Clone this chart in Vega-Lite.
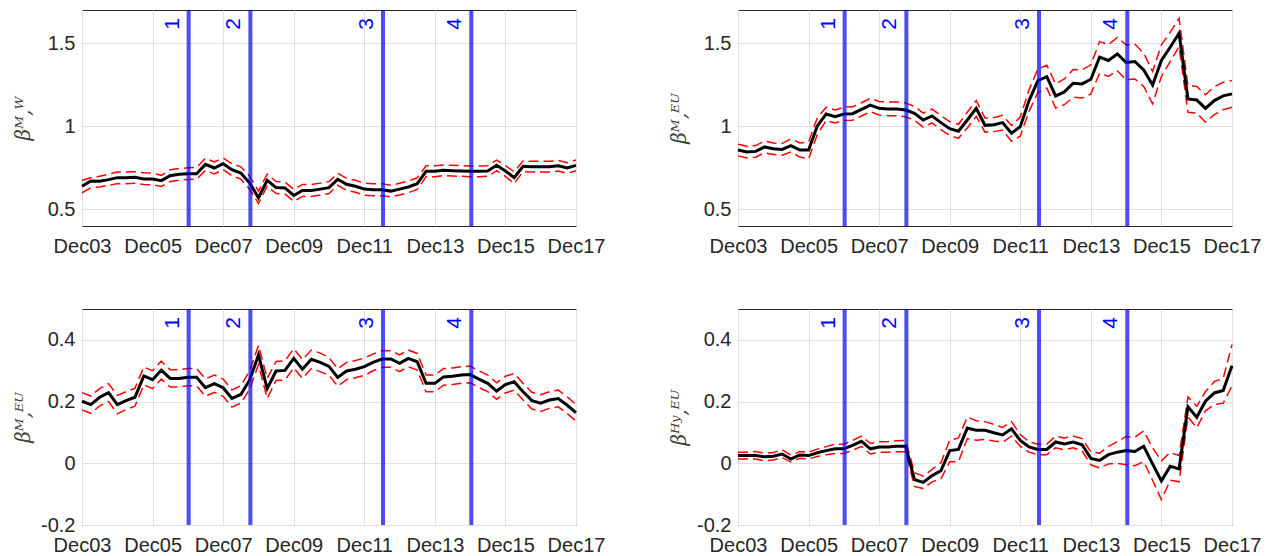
{
"$schema": "https://vega.github.io/schema/vega-lite/v6.json",
"padding": {"left": 12, "top": 7, "right": 0, "bottom": 0},
"background": "white",
"datasets": {
"ev": [{"d":"2006-12-09","n":"1"},{"d":"2008-09-08","n":"2"},{"d":"2012-06-12","n":"3"},{"d":"2014-12-13","n":"4"}],
"s": [
{"p":"A","d":"2003-12-01","m":0.639,"lo":0.600,"hi":0.675},
{"p":"A","d":"2004-03-01","m":0.671,"lo":0.630,"hi":0.690},
{"p":"A","d":"2004-06-01","m":0.669,"lo":0.635,"hi":0.700},
{"p":"A","d":"2004-09-01","m":0.679,"lo":0.645,"hi":0.712},
{"p":"A","d":"2004-12-01","m":0.691,"lo":0.655,"hi":0.725},
{"p":"A","d":"2005-03-01","m":0.691,"lo":0.655,"hi":0.725},
{"p":"A","d":"2005-06-01","m":0.693,"lo":0.657,"hi":0.727},
{"p":"A","d":"2005-09-01","m":0.683,"lo":0.650,"hi":0.720},
{"p":"A","d":"2005-12-01","m":0.683,"lo":0.648,"hi":0.718},
{"p":"A","d":"2006-03-01","m":0.673,"lo":0.638,"hi":0.705},
{"p":"A","d":"2006-06-01","m":0.703,"lo":0.668,"hi":0.738},
{"p":"A","d":"2006-09-01","m":0.711,"lo":0.676,"hi":0.746},
{"p":"A","d":"2006-12-01","m":0.715,"lo":0.680,"hi":0.750},
{"p":"A","d":"2007-03-01","m":0.715,"lo":0.682,"hi":0.752},
{"p":"A","d":"2007-06-01","m":0.771,"lo":0.735,"hi":0.808},
{"p":"A","d":"2007-09-01","m":0.749,"lo":0.713,"hi":0.786},
{"p":"A","d":"2007-12-01","m":0.775,"lo":0.740,"hi":0.810},
{"p":"A","d":"2008-03-01","m":0.739,"lo":0.703,"hi":0.775},
{"p":"A","d":"2008-06-01","m":0.719,"lo":0.682,"hi":0.756},
{"p":"A","d":"2008-09-01","m":0.659,"lo":0.620,"hi":0.700},
{"p":"A","d":"2008-12-01","m":0.570,"lo":0.535,"hi":0.610},
{"p":"A","d":"2009-03-01","m":0.675,"lo":0.640,"hi":0.712},
{"p":"A","d":"2009-06-01","m":0.631,"lo":0.595,"hi":0.668},
{"p":"A","d":"2009-09-01","m":0.629,"lo":0.593,"hi":0.665},
{"p":"A","d":"2009-12-01","m":0.584,"lo":0.548,"hi":0.620},
{"p":"A","d":"2010-03-01","m":0.614,"lo":0.578,"hi":0.650},
{"p":"A","d":"2010-06-01","m":0.614,"lo":0.578,"hi":0.650},
{"p":"A","d":"2010-09-01","m":0.622,"lo":0.586,"hi":0.658},
{"p":"A","d":"2010-12-01","m":0.631,"lo":0.595,"hi":0.667},
{"p":"A","d":"2011-03-01","m":0.681,"lo":0.645,"hi":0.717},
{"p":"A","d":"2011-06-01","m":0.651,"lo":0.615,"hi":0.687},
{"p":"A","d":"2011-09-01","m":0.639,"lo":0.603,"hi":0.675},
{"p":"A","d":"2011-12-01","m":0.622,"lo":0.586,"hi":0.658},
{"p":"A","d":"2012-03-01","m":0.618,"lo":0.582,"hi":0.654},
{"p":"A","d":"2012-06-01","m":0.618,"lo":0.582,"hi":0.654},
{"p":"A","d":"2012-09-01","m":0.610,"lo":0.575,"hi":0.645},
{"p":"A","d":"2012-12-01","m":0.622,"lo":0.587,"hi":0.657},
{"p":"A","d":"2013-03-01","m":0.635,"lo":0.600,"hi":0.670},
{"p":"A","d":"2013-06-01","m":0.655,"lo":0.620,"hi":0.690},
{"p":"A","d":"2013-09-01","m":0.729,"lo":0.697,"hi":0.762},
{"p":"A","d":"2013-12-01","m":0.729,"lo":0.697,"hi":0.762},
{"p":"A","d":"2014-03-01","m":0.735,"lo":0.703,"hi":0.767},
{"p":"A","d":"2014-06-01","m":0.733,"lo":0.701,"hi":0.765},
{"p":"A","d":"2014-09-01","m":0.731,"lo":0.699,"hi":0.763},
{"p":"A","d":"2014-12-01","m":0.729,"lo":0.697,"hi":0.761},
{"p":"A","d":"2015-03-01","m":0.729,"lo":0.697,"hi":0.761},
{"p":"A","d":"2015-06-01","m":0.731,"lo":0.699,"hi":0.763},
{"p":"A","d":"2015-09-01","m":0.765,"lo":0.733,"hi":0.797},
{"p":"A","d":"2015-12-01","m":0.731,"lo":0.699,"hi":0.763},
{"p":"A","d":"2016-03-01","m":0.691,"lo":0.655,"hi":0.727},
{"p":"A","d":"2016-06-01","m":0.759,"lo":0.727,"hi":0.791},
{"p":"A","d":"2016-09-01","m":0.757,"lo":0.725,"hi":0.789},
{"p":"A","d":"2016-12-01","m":0.757,"lo":0.725,"hi":0.789},
{"p":"A","d":"2017-03-01","m":0.757,"lo":0.725,"hi":0.789},
{"p":"A","d":"2017-06-01","m":0.763,"lo":0.731,"hi":0.795},
{"p":"A","d":"2017-09-01","m":0.749,"lo":0.717,"hi":0.781},
{"p":"A","d":"2017-12-01","m":0.765,"lo":0.733,"hi":0.797},
{"p":"B","d":"2003-12-01","m":0.857,"lo":0.822,"hi":0.892},
{"p":"B","d":"2004-03-01","m":0.845,"lo":0.810,"hi":0.880},
{"p":"B","d":"2004-06-01","m":0.849,"lo":0.814,"hi":0.884},
{"p":"B","d":"2004-09-01","m":0.876,"lo":0.841,"hi":0.911},
{"p":"B","d":"2004-12-01","m":0.865,"lo":0.830,"hi":0.900},
{"p":"B","d":"2005-03-01","m":0.861,"lo":0.826,"hi":0.896},
{"p":"B","d":"2005-06-01","m":0.884,"lo":0.845,"hi":0.925},
{"p":"B","d":"2005-09-01","m":0.857,"lo":0.815,"hi":0.900},
{"p":"B","d":"2005-12-01","m":0.857,"lo":0.805,"hi":0.905},
{"p":"B","d":"2006-03-01","m":1.002,"lo":0.950,"hi":1.050},
{"p":"B","d":"2006-06-01","m":1.074,"lo":1.035,"hi":1.115},
{"p":"B","d":"2006-09-01","m":1.058,"lo":1.020,"hi":1.098},
{"p":"B","d":"2006-12-01","m":1.074,"lo":1.035,"hi":1.115},
{"p":"B","d":"2007-03-01","m":1.076,"lo":1.037,"hi":1.117},
{"p":"B","d":"2007-06-01","m":1.102,"lo":1.062,"hi":1.142},
{"p":"B","d":"2007-09-01","m":1.128,"lo":1.088,"hi":1.168},
{"p":"B","d":"2007-12-01","m":1.108,"lo":1.068,"hi":1.150},
{"p":"B","d":"2008-03-01","m":1.104,"lo":1.064,"hi":1.146},
{"p":"B","d":"2008-06-01","m":1.104,"lo":1.064,"hi":1.146},
{"p":"B","d":"2008-09-01","m":1.098,"lo":1.057,"hi":1.140},
{"p":"B","d":"2008-12-01","m":1.078,"lo":1.036,"hi":1.120},
{"p":"B","d":"2009-03-01","m":1.038,"lo":0.995,"hi":1.080},
{"p":"B","d":"2009-06-01","m":1.062,"lo":1.020,"hi":1.104},
{"p":"B","d":"2009-09-01","m":1.022,"lo":0.980,"hi":1.064},
{"p":"B","d":"2009-12-01","m":0.986,"lo":0.945,"hi":1.028},
{"p":"B","d":"2010-03-01","m":0.970,"lo":0.928,"hi":1.012},
{"p":"B","d":"2010-06-01","m":1.038,"lo":0.990,"hi":1.085},
{"p":"B","d":"2010-09-01","m":1.108,"lo":1.060,"hi":1.155},
{"p":"B","d":"2010-12-01","m":1.006,"lo":0.965,"hi":1.050},
{"p":"B","d":"2011-03-01","m":1.010,"lo":0.968,"hi":1.052},
{"p":"B","d":"2011-06-01","m":1.022,"lo":0.978,"hi":1.066},
{"p":"B","d":"2011-09-01","m":0.958,"lo":0.910,"hi":1.005},
{"p":"B","d":"2011-12-01","m":0.998,"lo":0.940,"hi":1.055},
{"p":"B","d":"2012-03-01","m":1.155,"lo":1.090,"hi":1.220},
{"p":"B","d":"2012-06-01","m":1.275,"lo":1.205,"hi":1.345},
{"p":"B","d":"2012-09-01","m":1.299,"lo":1.230,"hi":1.368},
{"p":"B","d":"2012-12-01","m":1.183,"lo":1.110,"hi":1.255},
{"p":"B","d":"2013-03-01","m":1.207,"lo":1.130,"hi":1.285},
{"p":"B","d":"2013-06-01","m":1.259,"lo":1.175,"hi":1.342},
{"p":"B","d":"2013-09-01","m":1.255,"lo":1.170,"hi":1.340},
{"p":"B","d":"2013-12-01","m":1.283,"lo":1.195,"hi":1.370},
{"p":"B","d":"2014-03-01","m":1.416,"lo":1.320,"hi":1.510},
{"p":"B","d":"2014-06-01","m":1.396,"lo":1.300,"hi":1.492},
{"p":"B","d":"2014-09-01","m":1.436,"lo":1.335,"hi":1.535},
{"p":"B","d":"2014-12-01","m":1.384,"lo":1.280,"hi":1.490},
{"p":"B","d":"2015-03-01","m":1.390,"lo":1.285,"hi":1.495},
{"p":"B","d":"2015-06-01","m":1.339,"lo":1.240,"hi":1.440},
{"p":"B","d":"2015-09-01","m":1.249,"lo":1.135,"hi":1.330},
{"p":"B","d":"2015-12-01","m":1.396,"lo":1.300,"hi":1.490},
{"p":"B","d":"2016-03-01","m":1.476,"lo":1.390,"hi":1.565},
{"p":"B","d":"2016-06-01","m":1.560,"lo":1.480,"hi":1.650},
{"p":"B","d":"2016-09-01","m":1.165,"lo":1.085,"hi":1.245},
{"p":"B","d":"2016-12-01","m":1.159,"lo":1.080,"hi":1.240},
{"p":"B","d":"2017-03-01","m":1.108,"lo":1.025,"hi":1.190},
{"p":"B","d":"2017-06-01","m":1.155,"lo":1.070,"hi":1.238},
{"p":"B","d":"2017-09-01","m":1.183,"lo":1.100,"hi":1.265},
{"p":"B","d":"2017-12-01","m":1.195,"lo":1.115,"hi":1.275},
{"p":"C","d":"2003-12-01","m":0.201,"lo":0.173,"hi":0.229},
{"p":"C","d":"2004-03-01","m":0.190,"lo":0.162,"hi":0.218},
{"p":"C","d":"2004-06-01","m":0.214,"lo":0.186,"hi":0.242},
{"p":"C","d":"2004-09-01","m":0.229,"lo":0.200,"hi":0.258},
{"p":"C","d":"2004-12-01","m":0.190,"lo":0.160,"hi":0.220},
{"p":"C","d":"2005-03-01","m":0.203,"lo":0.174,"hi":0.232},
{"p":"C","d":"2005-06-01","m":0.214,"lo":0.185,"hi":0.243},
{"p":"C","d":"2005-09-01","m":0.283,"lo":0.254,"hi":0.312},
{"p":"C","d":"2005-12-01","m":0.271,"lo":0.242,"hi":0.300},
{"p":"C","d":"2006-03-01","m":0.302,"lo":0.273,"hi":0.331},
{"p":"C","d":"2006-06-01","m":0.275,"lo":0.247,"hi":0.303},
{"p":"C","d":"2006-09-01","m":0.275,"lo":0.247,"hi":0.303},
{"p":"C","d":"2006-12-01","m":0.279,"lo":0.251,"hi":0.307},
{"p":"C","d":"2007-03-01","m":0.279,"lo":0.251,"hi":0.307},
{"p":"C","d":"2007-06-01","m":0.245,"lo":0.217,"hi":0.273},
{"p":"C","d":"2007-09-01","m":0.258,"lo":0.230,"hi":0.286},
{"p":"C","d":"2007-12-01","m":0.245,"lo":0.217,"hi":0.273},
{"p":"C","d":"2008-03-01","m":0.210,"lo":0.182,"hi":0.238},
{"p":"C","d":"2008-06-01","m":0.223,"lo":0.195,"hi":0.251},
{"p":"C","d":"2008-09-01","m":0.270,"lo":0.240,"hi":0.300},
{"p":"C","d":"2008-12-01","m":0.351,"lo":0.320,"hi":0.382},
{"p":"C","d":"2009-03-01","m":0.242,"lo":0.210,"hi":0.275},
{"p":"C","d":"2009-06-01","m":0.299,"lo":0.268,"hi":0.330},
{"p":"C","d":"2009-09-01","m":0.301,"lo":0.270,"hi":0.332},
{"p":"C","d":"2009-12-01","m":0.340,"lo":0.309,"hi":0.371},
{"p":"C","d":"2010-03-01","m":0.305,"lo":0.275,"hi":0.336},
{"p":"C","d":"2010-06-01","m":0.337,"lo":0.307,"hi":0.367},
{"p":"C","d":"2010-09-01","m":0.327,"lo":0.297,"hi":0.357},
{"p":"C","d":"2010-12-01","m":0.314,"lo":0.285,"hi":0.343},
{"p":"C","d":"2011-03-01","m":0.278,"lo":0.250,"hi":0.306},
{"p":"C","d":"2011-06-01","m":0.299,"lo":0.271,"hi":0.327},
{"p":"C","d":"2011-09-01","m":0.305,"lo":0.277,"hi":0.333},
{"p":"C","d":"2011-12-01","m":0.313,"lo":0.285,"hi":0.341},
{"p":"C","d":"2012-03-01","m":0.327,"lo":0.300,"hi":0.354},
{"p":"C","d":"2012-06-01","m":0.338,"lo":0.311,"hi":0.365},
{"p":"C","d":"2012-09-01","m":0.338,"lo":0.311,"hi":0.365},
{"p":"C","d":"2012-12-01","m":0.324,"lo":0.297,"hi":0.351},
{"p":"C","d":"2013-03-01","m":0.340,"lo":0.313,"hi":0.367},
{"p":"C","d":"2013-06-01","m":0.329,"lo":0.302,"hi":0.356},
{"p":"C","d":"2013-09-01","m":0.259,"lo":0.232,"hi":0.286},
{"p":"C","d":"2013-12-01","m":0.259,"lo":0.232,"hi":0.286},
{"p":"C","d":"2014-03-01","m":0.280,"lo":0.253,"hi":0.307},
{"p":"C","d":"2014-06-01","m":0.282,"lo":0.255,"hi":0.309},
{"p":"C","d":"2014-09-01","m":0.286,"lo":0.259,"hi":0.313},
{"p":"C","d":"2014-12-01","m":0.288,"lo":0.261,"hi":0.315},
{"p":"C","d":"2015-03-01","m":0.273,"lo":0.246,"hi":0.300},
{"p":"C","d":"2015-06-01","m":0.259,"lo":0.232,"hi":0.286},
{"p":"C","d":"2015-09-01","m":0.234,"lo":0.207,"hi":0.261},
{"p":"C","d":"2015-12-01","m":0.255,"lo":0.228,"hi":0.282},
{"p":"C","d":"2016-03-01","m":0.264,"lo":0.237,"hi":0.291},
{"p":"C","d":"2016-06-01","m":0.232,"lo":0.205,"hi":0.259},
{"p":"C","d":"2016-09-01","m":0.203,"lo":0.176,"hi":0.230},
{"p":"C","d":"2016-12-01","m":0.195,"lo":0.168,"hi":0.222},
{"p":"C","d":"2017-03-01","m":0.205,"lo":0.178,"hi":0.232},
{"p":"C","d":"2017-06-01","m":0.210,"lo":0.183,"hi":0.237},
{"p":"C","d":"2017-09-01","m":0.188,"lo":0.161,"hi":0.215},
{"p":"C","d":"2017-12-01","m":0.164,"lo":0.137,"hi":0.191},
{"p":"D","d":"2003-12-01","m":0.025,"lo":0.014,"hi":0.036},
{"p":"D","d":"2004-03-01","m":0.025,"lo":0.014,"hi":0.036},
{"p":"D","d":"2004-06-01","m":0.025,"lo":0.014,"hi":0.038},
{"p":"D","d":"2004-09-01","m":0.021,"lo":0.008,"hi":0.032},
{"p":"D","d":"2004-12-01","m":0.023,"lo":0.011,"hi":0.035},
{"p":"D","d":"2005-03-01","m":0.030,"lo":0.018,"hi":0.044},
{"p":"D","d":"2005-06-01","m":0.014,"lo":0.004,"hi":0.026},
{"p":"D","d":"2005-09-01","m":0.027,"lo":0.016,"hi":0.038},
{"p":"D","d":"2005-12-01","m":0.025,"lo":0.014,"hi":0.036},
{"p":"D","d":"2006-03-01","m":0.034,"lo":0.022,"hi":0.046},
{"p":"D","d":"2006-06-01","m":0.041,"lo":0.028,"hi":0.054},
{"p":"D","d":"2006-09-01","m":0.047,"lo":0.032,"hi":0.062},
{"p":"D","d":"2006-12-01","m":0.047,"lo":0.032,"hi":0.062},
{"p":"D","d":"2007-03-01","m":0.058,"lo":0.042,"hi":0.074},
{"p":"D","d":"2007-06-01","m":0.071,"lo":0.055,"hi":0.088},
{"p":"D","d":"2007-09-01","m":0.047,"lo":0.030,"hi":0.064},
{"p":"D","d":"2007-12-01","m":0.053,"lo":0.036,"hi":0.070},
{"p":"D","d":"2008-03-01","m":0.053,"lo":0.036,"hi":0.070},
{"p":"D","d":"2008-06-01","m":0.055,"lo":0.037,"hi":0.073},
{"p":"D","d":"2008-09-01","m":0.055,"lo":0.037,"hi":0.074},
{"p":"D","d":"2008-12-01","m":-0.053,"lo":-0.075,"hi":-0.030},
{"p":"D","d":"2009-03-01","m":-0.062,"lo":-0.082,"hi":-0.042},
{"p":"D","d":"2009-06-01","m":-0.040,"lo":-0.060,"hi":-0.020},
{"p":"D","d":"2009-09-01","m":-0.024,"lo":-0.050,"hi":0.002},
{"p":"D","d":"2009-12-01","m":0.041,"lo":0.005,"hi":0.075},
{"p":"D","d":"2010-03-01","m":0.045,"lo":0.005,"hi":0.082},
{"p":"D","d":"2010-06-01","m":0.114,"lo":0.080,"hi":0.150},
{"p":"D","d":"2010-09-01","m":0.107,"lo":0.075,"hi":0.138},
{"p":"D","d":"2010-12-01","m":0.107,"lo":0.077,"hi":0.135},
{"p":"D","d":"2011-03-01","m":0.099,"lo":0.072,"hi":0.126},
{"p":"D","d":"2011-06-01","m":0.092,"lo":0.068,"hi":0.116},
{"p":"D","d":"2011-09-01","m":0.112,"lo":0.088,"hi":0.135},
{"p":"D","d":"2011-12-01","m":0.074,"lo":0.055,"hi":0.093},
{"p":"D","d":"2012-03-01","m":0.053,"lo":0.036,"hi":0.070},
{"p":"D","d":"2012-06-01","m":0.045,"lo":0.028,"hi":0.062},
{"p":"D","d":"2012-09-01","m":0.045,"lo":0.028,"hi":0.062},
{"p":"D","d":"2012-12-01","m":0.069,"lo":0.050,"hi":0.088},
{"p":"D","d":"2013-03-01","m":0.063,"lo":0.044,"hi":0.082},
{"p":"D","d":"2013-06-01","m":0.069,"lo":0.050,"hi":0.088},
{"p":"D","d":"2013-09-01","m":0.060,"lo":0.040,"hi":0.080},
{"p":"D","d":"2013-12-01","m":0.016,"lo":-0.005,"hi":0.037},
{"p":"D","d":"2014-03-01","m":0.009,"lo":-0.015,"hi":0.033},
{"p":"D","d":"2014-06-01","m":0.028,"lo":-0.002,"hi":0.055},
{"p":"D","d":"2014-09-01","m":0.036,"lo":0.000,"hi":0.070},
{"p":"D","d":"2014-12-01","m":0.041,"lo":-0.005,"hi":0.087},
{"p":"D","d":"2015-03-01","m":0.038,"lo":-0.008,"hi":0.084},
{"p":"D","d":"2015-06-01","m":0.055,"lo":0.005,"hi":0.105},
{"p":"D","d":"2015-09-01","m":-0.002,"lo":-0.055,"hi":0.050},
{"p":"D","d":"2015-12-01","m":-0.057,"lo":-0.118,"hi":0.008},
{"p":"D","d":"2016-03-01","m":-0.010,"lo":-0.055,"hi":0.035},
{"p":"D","d":"2016-06-01","m":-0.018,"lo":-0.060,"hi":0.025},
{"p":"D","d":"2016-09-01","m":0.183,"lo":0.150,"hi":0.215},
{"p":"D","d":"2016-12-01","m":0.149,"lo":0.115,"hi":0.185},
{"p":"D","d":"2017-03-01","m":0.201,"lo":0.170,"hi":0.232},
{"p":"D","d":"2017-06-01","m":0.228,"lo":0.190,"hi":0.265},
{"p":"D","d":"2017-09-01","m":0.236,"lo":0.195,"hi":0.275},
{"p":"D","d":"2017-12-01","m":0.316,"lo":0.250,"hi":0.385}
]
},
"columns": 2,
"bounds": "flush",
"spacing": {"row": 83, "column": 162},
"concat": [
{
"width": 494, "height": 216,
"encoding": {"x": {"field": "d", "type": "temporal", "scale": {"type": "utc", "domain": [{"year":2003,"month":12,"date":1,"utc":true},{"year":2017,"month":12,"date":1,"utc":true}]}, "axis": {"values": [{"year":2003,"month":12,"date":1,"utc":true},{"year":2005,"month":12,"date":1,"utc":true},{"year":2007,"month":12,"date":1,"utc":true},{"year":2009,"month":12,"date":1,"utc":true},{"year":2011,"month":12,"date":1,"utc":true},{"year":2013,"month":12,"date":1,"utc":true},{"year":2015,"month":12,"date":1,"utc":true},{"year":2017,"month":12,"date":1,"utc":true}], "labelExpr": "utcFormat(datum.value, '%b%y')", "title": null}}},
"layer": [
{"data": {"name": "s"}, "transform": [{"filter": "datum.p == 'A'"}], "mark": {"type": "line", "color": "#ff0000", "strokeWidth": 1.5, "strokeDash": [10, 5]}, "encoding": {"y": {"field": "lo", "type": "quantitative", "title": "βᴹ,ᵂ", "scale": {"domain": [0.4, 1.7], "nice": false, "zero": false}, "axis": {"values": [0.5, 1, 1.5], "labelExpr": "'' + datum.value"}}}},
{"data": {"name": "s"}, "transform": [{"filter": "datum.p == 'A'"}], "mark": {"type": "line", "color": "#ff0000", "strokeWidth": 1.5, "strokeDash": [10, 5]}, "encoding": {"y": {"field": "hi", "type": "quantitative", "title": "βᴹ,ᵂ"}}},
{"data": {"name": "s"}, "transform": [{"filter": "datum.p == 'A'"}], "mark": {"type": "line", "color": "#000000", "strokeWidth": 3}, "encoding": {"y": {"field": "m", "type": "quantitative", "title": "βᴹ,ᵂ"}}},
{"data": {"name": "ev"}, "mark": {"type": "rule", "color": "#0000ff", "opacity": 0.7, "strokeWidth": 4}, "encoding": {}},
{"data": {"name": "ev"}, "mark": {"type": "text", "color": "#0000ff", "font": "Liberation Sans", "fontSize": 21, "angle": 270, "align": "right", "baseline": "alphabetic", "dx": -8, "dy": -10}, "encoding": {"y": {"datum": 1.7, "type": "quantitative"}, "text": {"field": "n"}}}
]
},
{
"width": 494, "height": 216,
"encoding": {"x": {"field": "d", "type": "temporal", "scale": {"type": "utc", "domain": [{"year":2003,"month":12,"date":1,"utc":true},{"year":2017,"month":12,"date":1,"utc":true}]}, "axis": {"values": [{"year":2003,"month":12,"date":1,"utc":true},{"year":2005,"month":12,"date":1,"utc":true},{"year":2007,"month":12,"date":1,"utc":true},{"year":2009,"month":12,"date":1,"utc":true},{"year":2011,"month":12,"date":1,"utc":true},{"year":2013,"month":12,"date":1,"utc":true},{"year":2015,"month":12,"date":1,"utc":true},{"year":2017,"month":12,"date":1,"utc":true}], "labelExpr": "utcFormat(datum.value, '%b%y')", "title": null}}},
"layer": [
{"data": {"name": "s"}, "transform": [{"filter": "datum.p == 'B'"}], "mark": {"type": "line", "color": "#ff0000", "strokeWidth": 1.5, "strokeDash": [10, 5]}, "encoding": {"y": {"field": "lo", "type": "quantitative", "title": "βᴹ,ᴱᵁ", "scale": {"domain": [0.4, 1.7], "nice": false, "zero": false}, "axis": {"values": [0.5, 1, 1.5], "labelExpr": "'' + datum.value"}}}},
{"data": {"name": "s"}, "transform": [{"filter": "datum.p == 'B'"}], "mark": {"type": "line", "color": "#ff0000", "strokeWidth": 1.5, "strokeDash": [10, 5]}, "encoding": {"y": {"field": "hi", "type": "quantitative", "title": "βᴹ,ᴱᵁ"}}},
{"data": {"name": "s"}, "transform": [{"filter": "datum.p == 'B'"}], "mark": {"type": "line", "color": "#000000", "strokeWidth": 3}, "encoding": {"y": {"field": "m", "type": "quantitative", "title": "βᴹ,ᴱᵁ"}}},
{"data": {"name": "ev"}, "mark": {"type": "rule", "color": "#0000ff", "opacity": 0.7, "strokeWidth": 4}, "encoding": {}},
{"data": {"name": "ev"}, "mark": {"type": "text", "color": "#0000ff", "font": "Liberation Sans", "fontSize": 21, "angle": 270, "align": "right", "baseline": "alphabetic", "dx": -8, "dy": -10}, "encoding": {"y": {"datum": 1.7, "type": "quantitative"}, "text": {"field": "n"}}}
]
},
{
"width": 494, "height": 216,
"encoding": {"x": {"field": "d", "type": "temporal", "scale": {"type": "utc", "domain": [{"year":2003,"month":12,"date":1,"utc":true},{"year":2017,"month":12,"date":1,"utc":true}]}, "axis": {"values": [{"year":2003,"month":12,"date":1,"utc":true},{"year":2005,"month":12,"date":1,"utc":true},{"year":2007,"month":12,"date":1,"utc":true},{"year":2009,"month":12,"date":1,"utc":true},{"year":2011,"month":12,"date":1,"utc":true},{"year":2013,"month":12,"date":1,"utc":true},{"year":2015,"month":12,"date":1,"utc":true},{"year":2017,"month":12,"date":1,"utc":true}], "labelExpr": "utcFormat(datum.value, '%b%y')", "title": null}}},
"layer": [
{"data": {"name": "s"}, "transform": [{"filter": "datum.p == 'C'"}], "mark": {"type": "line", "color": "#ff0000", "strokeWidth": 1.5, "strokeDash": [10, 5]}, "encoding": {"y": {"field": "lo", "type": "quantitative", "title": "βᴹ,ᴱᵁ", "scale": {"domain": [-0.2, 0.5], "nice": false, "zero": false}, "axis": {"values": [-0.2, 0, 0.2, 0.4], "labelExpr": "'' + datum.value"}}}},
{"data": {"name": "s"}, "transform": [{"filter": "datum.p == 'C'"}], "mark": {"type": "line", "color": "#ff0000", "strokeWidth": 1.5, "strokeDash": [10, 5]}, "encoding": {"y": {"field": "hi", "type": "quantitative", "title": "βᴹ,ᴱᵁ"}}},
{"data": {"name": "s"}, "transform": [{"filter": "datum.p == 'C'"}], "mark": {"type": "line", "color": "#000000", "strokeWidth": 3}, "encoding": {"y": {"field": "m", "type": "quantitative", "title": "βᴹ,ᴱᵁ"}}},
{"data": {"name": "ev"}, "mark": {"type": "rule", "color": "#0000ff", "opacity": 0.7, "strokeWidth": 4}, "encoding": {}},
{"data": {"name": "ev"}, "mark": {"type": "text", "color": "#0000ff", "font": "Liberation Sans", "fontSize": 21, "angle": 270, "align": "right", "baseline": "alphabetic", "dx": -8, "dy": -10}, "encoding": {"y": {"datum": 0.5, "type": "quantitative"}, "text": {"field": "n"}}}
]
},
{
"width": 494, "height": 216,
"encoding": {"x": {"field": "d", "type": "temporal", "scale": {"type": "utc", "domain": [{"year":2003,"month":12,"date":1,"utc":true},{"year":2017,"month":12,"date":1,"utc":true}]}, "axis": {"values": [{"year":2003,"month":12,"date":1,"utc":true},{"year":2005,"month":12,"date":1,"utc":true},{"year":2007,"month":12,"date":1,"utc":true},{"year":2009,"month":12,"date":1,"utc":true},{"year":2011,"month":12,"date":1,"utc":true},{"year":2013,"month":12,"date":1,"utc":true},{"year":2015,"month":12,"date":1,"utc":true},{"year":2017,"month":12,"date":1,"utc":true}], "labelExpr": "utcFormat(datum.value, '%b%y')", "title": null}}},
"layer": [
{"data": {"name": "s"}, "transform": [{"filter": "datum.p == 'D'"}], "mark": {"type": "line", "color": "#ff0000", "strokeWidth": 1.5, "strokeDash": [10, 5]}, "encoding": {"y": {"field": "lo", "type": "quantitative", "title": "βᴴʸ,ᴱᵁ", "scale": {"domain": [-0.2, 0.5], "nice": false, "zero": false}, "axis": {"values": [-0.2, 0, 0.2, 0.4], "labelExpr": "'' + datum.value"}}}},
{"data": {"name": "s"}, "transform": [{"filter": "datum.p == 'D'"}], "mark": {"type": "line", "color": "#ff0000", "strokeWidth": 1.5, "strokeDash": [10, 5]}, "encoding": {"y": {"field": "hi", "type": "quantitative", "title": "βᴴʸ,ᴱᵁ"}}},
{"data": {"name": "s"}, "transform": [{"filter": "datum.p == 'D'"}], "mark": {"type": "line", "color": "#000000", "strokeWidth": 3}, "encoding": {"y": {"field": "m", "type": "quantitative", "title": "βᴴʸ,ᴱᵁ"}}},
{"data": {"name": "ev"}, "mark": {"type": "rule", "color": "#0000ff", "opacity": 0.7, "strokeWidth": 4}, "encoding": {}},
{"data": {"name": "ev"}, "mark": {"type": "text", "color": "#0000ff", "font": "Liberation Sans", "fontSize": 21, "angle": 270, "align": "right", "baseline": "alphabetic", "dx": -8, "dy": -10}, "encoding": {"y": {"datum": 0.5, "type": "quantitative"}, "text": {"field": "n"}}}
]
}
],
"config": {
"view": {"stroke": "#262626", "strokeWidth": 1},
"axis": {"grid": true, "gridColor": "#dfdfdf", "gridWidth": 1, "ticks": false, "domain": false, "labelFont": "Liberation Sans", "labelFontSize": 20, "labelColor": "#262626", "titleFont": "DejaVu Serif", "titleFontSize": 20, "titleFontWeight": "normal", "titleFontStyle": "italic", "titleColor": "#404040"},
"axisX": {"labelPadding": 10, "labelFlush": false, "labelOverlap": false},
"axisY": {"labelPadding": 7, "minExtent": 42, "maxExtent": 42, "titlePadding": 7}
}
}
